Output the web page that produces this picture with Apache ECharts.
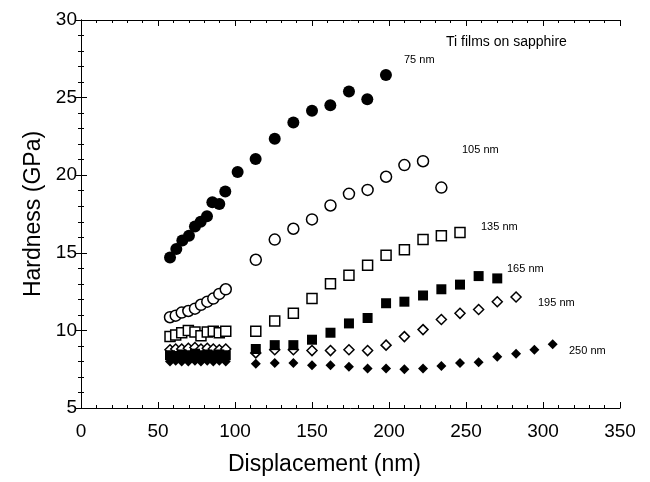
<!DOCTYPE html>
<html>
<head>
<meta charset="utf-8">
<script src="https://cdn.jsdelivr.net/npm/echarts@6/dist/echarts.min.js"></script>
<style>
  html, body { margin: 0; padding: 0; background: #fff; }
  #chart { width: 650px; height: 482px; }
</style>
</head>
<body>
<div id="chart"></div>
<script>
// displacement positions shared by the shallow indents (nm)
var xEarly = [57.8, 61.5, 65.4, 69.7, 74.0, 77.9, 82.0, 85.9, 89.8, 94.0];
var xLate = [113.5, 125.8, 137.9, 150.0, 162.0, 174.0, 186.1, 198.1, 210.0, 222.1, 234.0, 246.1, 258.2, 270.3, 282.5, 294.4, 306.3];

// 75 nm (filled circles)
var x75 = [57.8, 61.9, 65.8, 70.1, 74.0, 77.7, 81.8, 85.3, 89.8, 93.7, 101.7, 113.4, 125.8, 137.9, 150.0, 161.9, 174.0, 185.9, 198.0];
var h75 = [14.7, 15.25, 15.8, 16.1, 16.7, 17.0, 17.35, 18.25, 18.15, 18.95, 20.2, 21.05, 22.35, 23.4, 24.15, 24.5, 25.4, 24.9, 26.45];

// 105 nm (open circles)
var h105a = [10.85, 10.95, 11.15, 11.25, 11.4, 11.65, 11.85, 12.05, 12.35, 12.65];
var h105b = [14.55, 15.85, 16.55, 17.15, 18.05, 18.8, 19.05, 19.9, 20.65, 20.9, 19.2];

// 135 nm (open squares)
var h135a = [9.6, 9.7, 9.85, 10.0, 9.9, 9.65, 9.9, 9.95, 9.85, 9.95];
var h135b = [9.95, 10.6, 11.1, 12.05, 13.0, 13.55, 14.2, 14.85, 15.2, 15.85, 16.1, 16.3];

// 165 nm (filled squares)
var h165a = [8.4, 8.35, 8.45, 8.4, 8.5, 8.4, 8.45, 8.4, 8.45, 8.4];
var h165b = [8.8, 9.05, 9.05, 9.4, 9.85, 10.45, 10.8, 11.75, 11.85, 12.25, 12.65, 12.95, 13.5, 13.35];

// 195 nm (open diamonds)
var h195a = [8.75, 8.8, 8.8, 8.85, 8.9, 8.8, 8.85, 8.8, 8.75, 8.8];
var h195b = [8.55, 8.75, 8.75, 8.7, 8.7, 8.75, 8.7, 9.05, 9.6, 10.05, 10.7, 11.1, 11.35, 11.85, 12.15];

// 250 nm (filled diamonds)
var h250a = [8.0, 8.05, 8.0, 8.0, 8.05, 8.0, 8.05, 8.0, 8.05, 8.0];
var h250b = [7.85, 7.9, 7.9, 7.75, 7.75, 7.65, 7.55, 7.55, 7.5, 7.55, 7.7, 7.9, 7.95, 8.3, 8.5, 8.75, 9.1];

var thickLabels = ['75 nm', '105 nm', '135 nm', '165 nm', '195 nm', '250 nm'];

function pairs(xs, ys) {
    var out = [];
    for (var i = 0; i < ys.length; i++) out.push([xs[i], ys[i]]);
    return out;
}

var font = 'Liberation Sans, Arial, sans-serif';

function dots(name, symbol, size, filled, data) {
    return {
        name: name,
        type: 'scatter',
        symbol: symbol,
        symbolSize: size,
        data: data,
        silent: true,
        itemStyle: {
            color: filled ? '#000' : '#fff',
            borderColor: '#000',
            borderWidth: filled ? 0 : 1.5,
            opacity: 1
        }
    };
}

var chart = echarts.init(document.getElementById('chart'));

var frameAxis = {
    axisLine: { show: true, lineStyle: { color: '#000', width: 1 } },
    axisTick: { show: true, inside: true, length: 6, lineStyle: { color: '#000' } },
    minorTick: { show: true, splitNumber: 5, length: 3, lineStyle: { color: '#000' } },
    splitLine: { show: false },
    minorSplitLine: { show: false }
};

var option = {
    animation: false,
    backgroundColor: '#fff',
    grid: { left: 81, right: 30, top: 20, bottom: 74 },
    xAxis: [
        Object.assign({
            type: 'value', min: 0, max: 350, interval: 50,
            axisLabel: { fontFamily: font, fontSize: 19, color: '#000', margin: 14 }
        }, frameAxis),
        Object.assign({
            type: 'value', min: 0, max: 350, interval: 50, position: 'top',
            axisLabel: { show: false }
        }, frameAxis)
    ],
    yAxis: [
        Object.assign({
            type: 'value', min: 5, max: 30, interval: 5,
            name: 'Hardness (GPa)', nameLocation: 'middle', nameGap: 36,
            nameTextStyle: { fontFamily: font, fontSize: 23, color: '#000' },
            axisLabel: { fontFamily: font, fontSize: 19, color: '#000', margin: 4 }
        }, frameAxis),
        Object.assign({
            type: 'value', min: 5, max: 30, interval: 5, position: 'right',
            axisLabel: { show: false }
        }, frameAxis)
    ],
    series: [
        dots('250 nm', 'diamond', 10, true, pairs(xEarly, h250a).concat(pairs(xLate, h250b))),
        dots('195 nm', 'diamond', 10, false, pairs(xEarly, h195a).concat(pairs(xLate, h195b))),
        dots('165 nm', 'rect', 10, true, pairs(xEarly, h165a).concat(pairs(xLate, h165b))),
        dots('135 nm', 'rect', 10, false, pairs(xEarly, h135a).concat(pairs(xLate, h135b))),
        dots('105 nm', 'circle', 11, false, pairs(xEarly, h105a).concat(pairs(xLate, h105b))),
        dots('75 nm', 'circle', 12, true, pairs(x75, h75))
    ],
    graphic: [
        { type: 'text', left: 228, top: 453, style: { text: 'Displacement (nm)', font: '23px ' + font, fill: '#000' } },
        { type: 'text', left: 446, top: 35, style: { text: 'Ti films on sapphire', font: '14px ' + font, fill: '#000' } },
        { type: 'text', left: 404, top: 54, style: { text: thickLabels[0], font: '11px ' + font, fill: '#000' } },
        { type: 'text', left: 462, top: 144, style: { text: thickLabels[1], font: '11px ' + font, fill: '#000' } },
        { type: 'text', left: 481, top: 221, style: { text: thickLabels[2], font: '11px ' + font, fill: '#000' } },
        { type: 'text', left: 507, top: 263, style: { text: thickLabels[3], font: '11px ' + font, fill: '#000' } },
        { type: 'text', left: 538, top: 297, style: { text: thickLabels[4], font: '11px ' + font, fill: '#000' } },
        { type: 'text', left: 569, top: 345, style: { text: thickLabels[5], font: '11px ' + font, fill: '#000' } }
    ]
};

chart.setOption(option);
</script>
</body>
</html>
